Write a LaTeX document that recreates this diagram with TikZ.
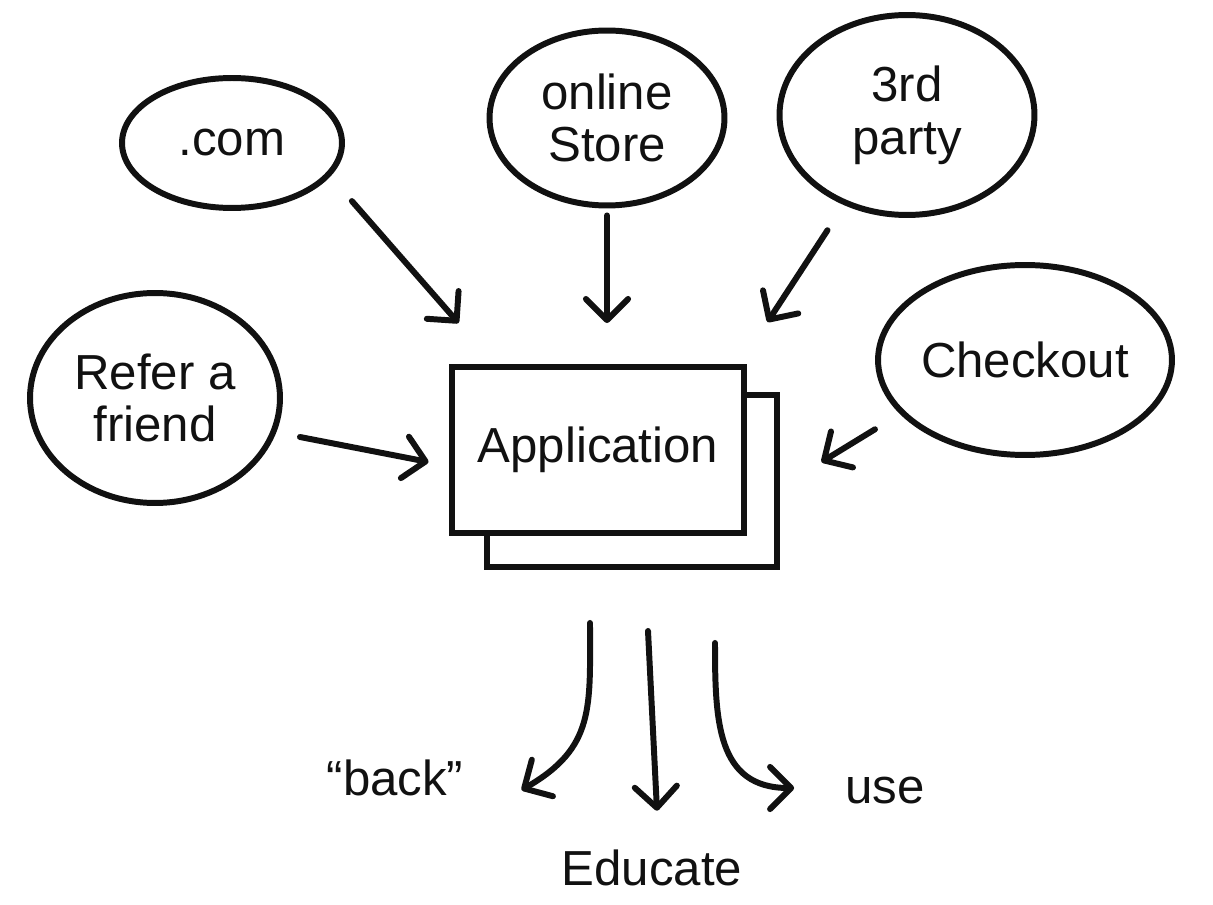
\documentclass[tikz,border=0pt]{standalone}
\usepackage{fontspec}
\setmainfont{Liberation Sans}
\usepackage{tikz}
\usetikzlibrary{arrows.meta, positioning, shapes.geometric, calc}
\definecolor{ink}{HTML}{111111}

\tikzset{
  bubble/.style={ellipse, draw=ink, line width=3.4pt, inner sep=0pt, align=center,
    text=ink, font=\fontsize{28}{30}\selectfont},
  appbox/.style={rectangle, draw=ink, line width=3.4pt, fill=white, inner sep=0pt,
    text=ink, font=\fontsize{28}{30}\selectfont},
  feed/.style={draw=ink, line width=3.4pt, line cap=round,
    -{Straight Barb[length=12pt, width=24pt, round]}},
  outlabel/.style={text=ink, font=\fontsize{28}{30}\selectfont}
}

\begin{document}
\begin{tikzpicture}[x=0.02cm, y=-0.02cm]
\useasboundingbox (0,0) rectangle (1213,905);
% sources
\node[bubble, minimum width=4.4cm, minimum height=2.6cm] (com) at (232,143) {.com};
\node[bubble, minimum width=4.7cm, minimum height=3.5cm] (store) at (607,118) {online\\Store};
\node[bubble, minimum width=5.1cm, minimum height=4.0cm] (party) at (907,115) {3rd\\party};
\node[bubble, minimum width=5.0cm, minimum height=4.2cm] (refer) at (155,398) {Refer a\\friend};
\node[bubble, minimum width=5.7cm, minimum height=3.8cm] (checkout) at (1025,360) {Checkout};
% application (stacked)
\node[appbox, minimum width=5.82cm, minimum height=3.44cm] (appback) at (632,481) {};
\node[appbox, minimum width=5.86cm, minimum height=3.32cm] (app) at (598,450) {Application};
% outcomes
\node[outlabel] (back) at (395,778) {``back''};
\node[outlabel] (educate) at (652,868) {Educate};
\node[outlabel] (use) at (885,790) {use};
% into the application
\draw[feed] ([shift={(40,10)}]com.south east) -- ([shift={(10,-41)}]app.north west);
\draw[feed] ([shift={(0,7)}]store.south) -- ([shift={(9,-41)}]app.north);
\draw[feed, shorten <=0.6cm] (party.-125) -- ([shift={(20,-42)}]app.north east);
\draw[feed] ([shift={(17,39)}]refer.east) -- ([shift={(-20,12)}]app.west);
\draw[feed] ([shift={(-44,0)}]checkout.south west) -- ([shift={(41,-19)}]appback.east);
% out of the application
\draw[feed] ([shift={(-42,53)}]appback.south) to[out=-90, in=30, looseness=1.2] ([shift={(52,12)}]back.east);
\draw[feed] ([shift={(16,61)}]appback.south) -- ([shift={(5,-33)}]educate.north);
\draw[feed] ([shift={(83,73)}]appback.south) to[out=-90, in=180, looseness=1.2] ([shift={(-45,-2)}]use.west);
\end{tikzpicture}
\end{document}
